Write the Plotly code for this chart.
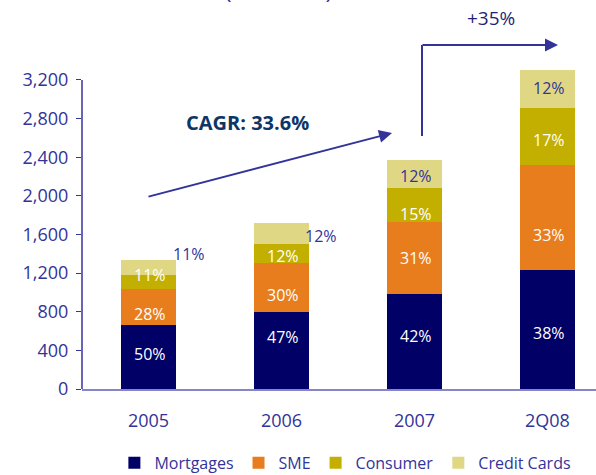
import plotly.graph_objects as go

categories = ["2005", "2006", "2007", "2Q08"]
mortgages = [663, 798, 984, 1233]
sme = [373, 507, 746, 1087]
consumer = [145, 197, 352, 591]
credit_cards = [155, 217, 290, 394]

mortgages_pct = ["50%", "47%", "42%", "38%"]
sme_pct = ["28%", "30%", "31%", "33%"]
consumer_pct = ["11%", "12%", "15%", "17%"]
credit_pct = ["11%", "12%", "12%", "12%"]

y_ticks = [0, 400, 800, 1200, 1600, 2000, 2400, 2800, 3200]

FONT = "Open Sans"
BLUE = "#333399"
NAVY_TXT = "#1f1f75"

series = [
    ("Mortgages", mortgages, "#000066"),
    ("SME", sme, "#E87D1E"),
    ("Consumer", consumer, "#C3AF00"),
    ("Credit Cards", credit_cards, "#DFD784"),
]
pct_labels = [mortgages_pct, sme_pct, consumer_pct, credit_pct]
# small vertical nudges (px) so the labels sit where the slide put them
nudge = [[3, 13, 5, -4], [-7, -8, 0, -18], [7, -3, -9, -4], [0, 0, -2, 1]]

fig = go.Figure()
for name, vals, col in series:
    fig.add_trace(go.Bar(x=categories, y=vals, name=name, marker_color=col,
                         marker_line_width=0))

# segment labels (x given as category index so "2005" isn't read as a number)
for i, cat in enumerate(categories):
    base = 0
    for k, ((name, vals, col), pct) in enumerate(zip(series, pct_labels)):
        mid = base + vals[i] / 2
        top = base + vals[i]
        a = dict(x=i, y=mid, text=pct[i], xshift=2, yshift=nudge[k][i],
                 font=dict(color="white", size=16, family=FONT))
        if name == "Credit Cards":
            a["font"]["color"] = BLUE
            if i == 0:
                a.update(y=top + 62, xshift=41)
            elif i == 1:
                a.update(y=mid - 26, xshift=40)
        fig.add_annotation(showarrow=False, xref="x", yref="y", **a)
        base = top


def px2x(p):
    return (p - 82) / 514


def px2y(p):
    return (389 - p) / 389


DX, DY = "x domain", "y domain"

# CAGR arrow
fig.add_annotation(xref=DX, yref=DY, axref=DX, ayref=DY,
                   x=px2x(392), y=px2y(133), ax=px2x(147), ay=px2y(197),
                   text="", showarrow=True, arrowhead=2, arrowsize=1.3,
                   arrowwidth=2, arrowcolor=BLUE)
fig.add_annotation(xref="paper", yref="paper", x=px2x(247), y=px2y(122),
                   xanchor="center", yanchor="middle",
                   text="<b>CAGR: 33.6%</b>", showarrow=False,
                   font=dict(family=FONT, size=20, color="#0d3566"))

# +35% elbow arrow
fig.add_shape(type="line", xref="paper", yref="paper",
              x0=px2x(422), y0=px2y(136), x1=px2x(422), y1=px2y(45),
              line=dict(color=BLUE, width=2))
fig.add_annotation(xref=DX, yref=DY, axref=DX, ayref=DY,
                   x=px2x(558), y=px2y(45), ax=px2x(421), ay=px2y(45),
                   text="", showarrow=True, arrowhead=2, arrowsize=1.3,
                   arrowwidth=2, arrowcolor=BLUE)
fig.add_annotation(xref="paper", yref="paper", x=px2x(491), y=px2y(18),
                   xanchor="center", yanchor="middle",
                   text="+35%", showarrow=False,
                   font=dict(family=FONT, size=19, color=NAVY_TXT))

# title, cut off at the top edge as in the source slide
fig.add_annotation(xref="paper", yref="paper", x=px2x(334), y=px2y(7),
                   xanchor="right", yanchor="bottom",
                   text="Total Loans (US$ MM)", showarrow=False,
                   font=dict(family=FONT, size=24, color=BLUE))

# y axis line up to 3,200
fig.add_shape(type="line", xref="paper", yref="y", x0=0, x1=0, y0=0, y1=3200,
              line=dict(color=BLUE, width=1.5))

fig.update_layout(
    barmode="stack",
    bargap=0.586,
    width=596,
    height=475,
    margin=dict(l=82, r=0, t=0, b=86, autoexpand=False),
    paper_bgcolor="white",
    plot_bgcolor="white",
    font=dict(family=FONT, color=BLUE, size=17),
    legend=dict(orientation="h", x=0.063, y=-0.19, xanchor="left",
                yanchor="middle", font=dict(size=16, color=BLUE),
                itemwidth=30, traceorder="normal", tracegroupgap=0),
    xaxis=dict(range=[-0.5, 3.365], showgrid=False, showline=True,
               linecolor="#8585c8", linewidth=2, ticks="",
               ticklabelstandoff=14, tickfont=dict(size=18, color=BLUE)),
    yaxis=dict(range=[0, 4028], tickvals=y_ticks, tickformat=",",
               showgrid=False, showline=False, zeroline=False,
               ticks="outside", ticklen=5, tickcolor=BLUE,
               ticklabelstandoff=4, tickfont=dict(size=18, color=BLUE)),
)

fig.write_html("out.html", config={"displayModeBar": False},
               post_script="document.body.style.margin='0px';")
